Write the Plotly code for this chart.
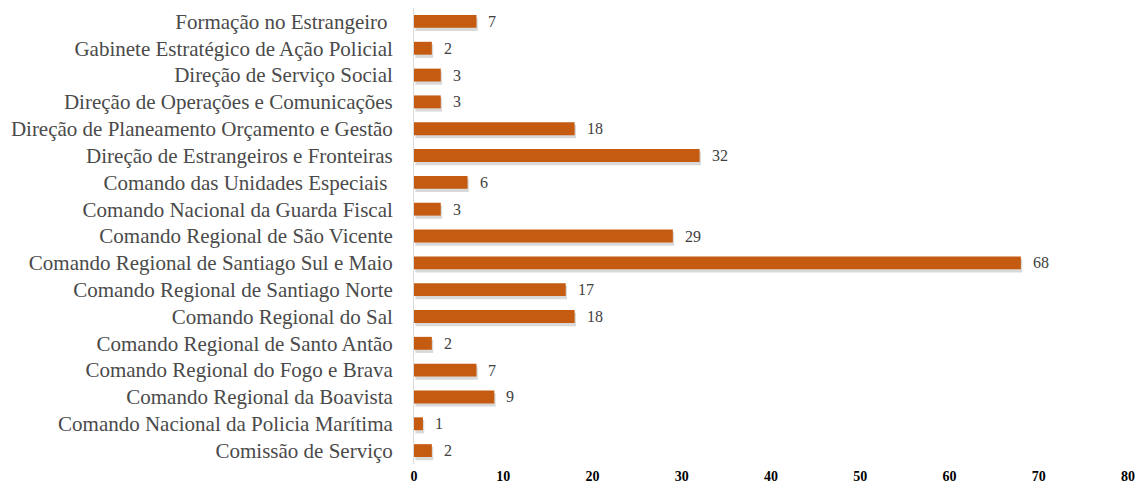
import plotly.graph_objects as go

categories = [
    "Formação no Estrangeiro\u00a0",
    "Gabinete Estratégico de Ação Policial",
    "Direção de Serviço Social",
    "Direção de Operações e Comunicações",
    "Direção de Planeamento Orçamento e Gestão",
    "Direção de Estrangeiros e Fronteiras",
    "Comando das Unidades Especiais\u00a0",
    "Comando Nacional da Guarda Fiscal",
    "Comando Regional de São Vicente",
    "Comando Regional de Santiago Sul e Maio",
    "Comando Regional de Santiago Norte",
    "Comando Regional do Sal",
    "Comando Regional de Santo Antão",
    "Comando Regional do Fogo e Brava",
    "Comando Regional da Boavista",
    "Comando Nacional da Policia Marítima",
    "Comissão de Serviço",
]
values = [7, 2, 3, 3, 18, 32, 6, 3, 29, 68, 17, 18, 2, 7, 9, 1, 2]
x_ticks = [0, 10, 20, 30, 40, 50, 60, 70, 80]

# bottom-to-top order for plotting
cats_plot = categories[::-1]
vals_plot = values[::-1]

BAR = "#C55A11"
SERIF = "Liberation Serif, Times New Roman, serif"

fig = go.Figure()

# soft drop shadow under each bar
fig.add_trace(go.Bar(
    y=cats_plot, x=vals_plot, orientation="h",
    marker=dict(color="rgba(80,80,80,0.22)", line=dict(width=0)),
    width=0.5, offset=-0.36, base=0.15,
    hoverinfo="skip", showlegend=False,
))
fig.add_trace(go.Bar(
    y=cats_plot, x=vals_plot, orientation="h",
    marker=dict(color=BAR, line=dict(width=0)),
    width=0.48, offset=-0.24,
    showlegend=False,
))

for c, v in zip(cats_plot, vals_plot):
    fig.add_annotation(
        x=v, y=c, text=str(v), showarrow=False,
        xanchor="left", yanchor="middle", xshift=10,
        font=dict(family=SERIF, size=16, color="#404040"),
    )

fig.update_layout(
    width=1136, height=486,
    margin=dict(l=414, r=8, t=8, b=22),
    plot_bgcolor="white", paper_bgcolor="white",
    barmode="overlay",
    font=dict(family=SERIF),
)
fig.update_xaxes(
    range=[0, 80], tickvals=x_ticks, showgrid=False, zeroline=False,
    showline=False, automargin=False,
    tickfont=dict(family=SERIF, size=14, color="#000000", weight="bold"),
    ticklabelstandoff=2,
)
fig.update_yaxes(
    categoryorder="array", categoryarray=cats_plot,
    showgrid=False, zeroline=False, automargin=False,
    showline=True, linecolor="#D9D9D9", linewidth=1,
    tickfont=dict(family=SERIF, size=21, color="#4A4A4A"),
    ticklabelstandoff=16,
)

fig.write_html("out.html")
